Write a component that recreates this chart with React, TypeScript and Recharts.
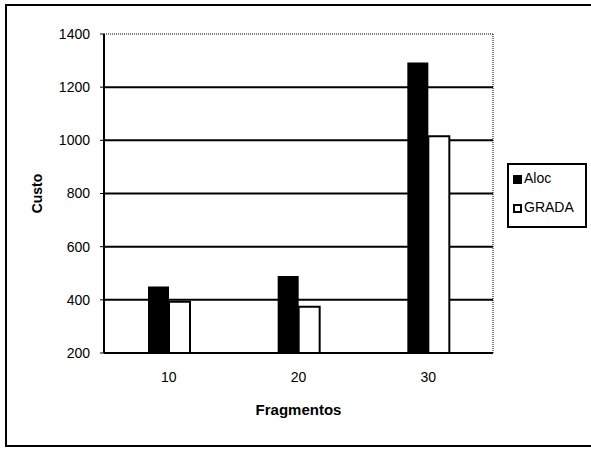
import { BarChart, Bar, XAxis, YAxis, CartesianGrid, ReferenceLine } from "recharts";

const categories = ["10", "20", "30"];
const aloc = [450, 490, 1293];
const grada = [393, 374, 1015];
const yTicks = [200, 400, 600, 800, 1000, 1200, 1400];
const gridValues = [400, 600, 800, 1000, 1200];

const data = categories.map((c, i) => ({ frag: c, Aloc: aloc[i], GRADA: grada[i] }));

const FONT = "'Liberation Sans', Arial, Helvetica, sans-serif";

export default function App() {
  return (
    <div style={{ position: "absolute", left: 0, top: 0, width: 591, height: 449, background: "#fff", fontFamily: FONT }}>
      {/* outer frame */}
      <div
        style={{
          position: "absolute",
          left: 5,
          top: 4,
          width: 590,
          height: 443,
          border: "2px solid #000",
          boxSizing: "border-box",
        }}
      />
      <BarChart
        width={591}
        height={449}
        data={data}
        margin={{ top: 34, right: 98, left: 26, bottom: 26 }}
        barGap={0}
        barSize={21}
        style={{ position: "absolute", left: 0, top: 0 }}
      >
        <CartesianGrid
          vertical={false}
          horizontalValues={gridValues}
          stroke="#000"
          strokeWidth={2}
        />
        <CartesianGrid
          horizontal={false}
          verticalCoordinatesGenerator={({ offset }: any) => [offset.left + offset.width]}
          stroke="#000"
          strokeDasharray="1 1"
        />
        <ReferenceLine y={1400} stroke="#000" strokeDasharray="1 1" />
        <XAxis
          dataKey="frag"
          height={70}
          axisLine={{ stroke: "#000", strokeWidth: 2 }}
          tickLine={false}
          tick={{ fill: "#000", fontSize: 14, fontFamily: FONT }}
          tickMargin={13}
          label={{
            value: "Fragmentos",
            position: "insideBottom",
            offset: 8,
            fill: "#000",
            fontSize: 15,
            fontWeight: "bold",
            fontFamily: FONT,
          }}
        />
        <YAxis
          width={78}
          domain={[200, 1400]}
          ticks={yTicks}
          interval={0}
          allowDataOverflow
          axisLine={{ stroke: "#000", strokeWidth: 2 }}
          tickLine={{ stroke: "#000" }}
          tickSize={4}
          tickMargin={10}
          tick={{ fill: "#000", fontSize: 14, fontFamily: FONT }}
          label={{
            content: ({ viewBox }: any) => (
              <text
                x={viewBox.x + 11}
                y={viewBox.y + viewBox.height / 2}
                transform={`rotate(-90, ${viewBox.x + 11}, ${viewBox.y + viewBox.height / 2})`}
                textAnchor="middle"
                dominantBaseline="central"
                fontSize={14}
                fontWeight="bold"
                fontFamily={FONT}
                fill="#000"
              >
                Custo
              </text>
            ),
          }}
        />
        <Bar dataKey="Aloc" fill="#000" isAnimationActive={false} />
        <Bar dataKey="GRADA" fill="#fff" stroke="#000" strokeWidth={2} isAnimationActive={false} />
      </BarChart>
      {/* legend */}
      <div
        style={{
          position: "absolute",
          left: 507,
          top: 163,
          width: 80,
          height: 65,
          border: "2px solid #000",
          boxSizing: "border-box",
          fontSize: 14,
          color: "#000",
          padding: "5px 0 0 4px",
        }}
      >
        {[
          { name: "Aloc", fill: "#000" },
          { name: "GRADA", fill: "#fff" },
        ].map((s, i) => (
          <div key={s.name} style={{ display: "flex", alignItems: "center", height: 16, marginTop: i === 0 ? 0 : 13 }}>
            <span
              style={{
                display: "inline-block",
                width: 9,
                height: 9,
                background: s.fill,
                border: "2px solid #000",
                boxSizing: "border-box",
                marginRight: 2,
                marginTop: 3,
              }}
            />
            {s.name}
          </div>
        ))}
      </div>
    </div>
  );
}
